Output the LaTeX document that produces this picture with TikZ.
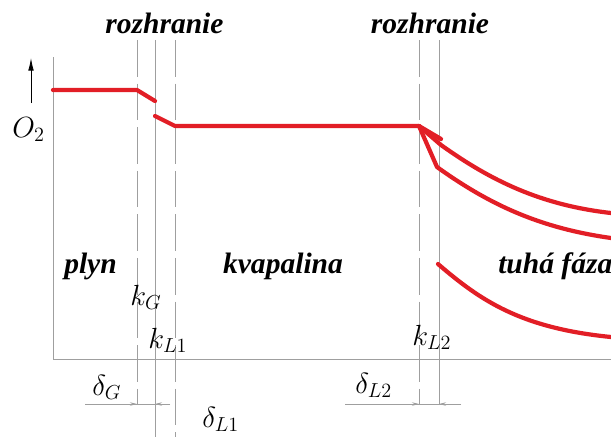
\documentclass[tikz,border=0pt]{standalone}
\usepackage[no-math]{fontspec}
\setmainfont{Liberation Serif}
\usepackage{amsmath}
\usetikzlibrary{arrows.meta,calc}
\definecolor{oxy}{RGB}{226,30,38}

\begin{document}
\begin{tikzpicture}[
  x=0.025cm, y=-0.025cm,
  ax/.style={draw=gray!75, line width=0.5pt},
  gapline/.style={ax, dash pattern=on 26pt off 5pt},
  prof/.style={draw=oxy, line width=3pt, line cap=round, line join=round},
  dimarr/.style={ax, -{Stealth[length=5pt,width=2.5pt]}},
  phase/.style={font=\fontsize{21}{24}\selectfont\bfseries\itshape, inner sep=0pt, anchor=base},
  sym/.style={font=\fontsize{22}{26}\selectfont, inner sep=0pt, anchor=base west}
]
\useasboundingbox (0,0) rectangle (611,437);

% axes
\coordinate (top) at (53,57);
\coordinate (org) at (53,359);
\coordinate (xend) at (611,359);
\draw[ax] (top) -- (org) -- (xend);

% gas / liquid interface
\coordinate (g1) at (137,40);  \coordinate (g1b) at (137,404);
\coordinate (g2) at (155,40);  \coordinate (g2b) at (155,437);
\coordinate (g3) at (175,40);  \coordinate (g3b) at (175,437);
\draw[gapline] (g1) -- (g1b);
\draw[ax] (g2) -- (g2b);
\draw[gapline] (g3) -- (g3b);

% liquid / solid interface
\coordinate (s1) at (419,40);  \coordinate (s1b) at (419,404);
\coordinate (s2) at (439,40);  \coordinate (s2b) at (439,404);
\draw[gapline] (s1) -- (s1b);
\draw[ax] (s2) -- (s2b);

% film thickness marks
\coordinate (dgL) at (85,404);  \coordinate (dgR) at (170,404);
\draw[ax] (dgL) -- (dgR);
\draw[dimarr] (dgL) -- (g1b);
\draw[dimarr] (dgR) -- (155,404);
\coordinate (dsL) at (345,404); \coordinate (dsR) at (461,404);
\draw[ax] (dsL) -- (dsR);
\draw[dimarr] (dsL) -- (s1b);
\draw[dimarr] (dsR) -- (s2b);

% O2 arrow
\coordinate (oa) at (31,103);
\coordinate (ob) at (31,58);
\draw[-{Latex[length=9pt,width=4pt]}, line width=0.6pt] (oa) -- (ob);

% concentration profile
\coordinate (p0) at (53,90);
\coordinate (p1) at (137,90);
\coordinate (p2) at (155,101);
\coordinate (p3) at (155,116);
\coordinate (p4) at (175,126);
\coordinate (tip) at (419,126);
\draw[prof] (p0) -- (p1) -- (p2);
\draw[prof] (p3) -- (p4) -- (tip);
\draw[prof] (611,213) .. controls (540,205) and (490,180) .. (441,145) -- (tip);
\draw[prof] (tip) -- (441,139);
\draw[prof] (611,238) .. controls (540,228) and (490,205) .. (437,167) -- (tip);
\draw[prof] (438,264) .. controls (480,300) and (520,328) .. (611,337);

% labels
\node[phase] (roz1) at (164.5,33) {rozhranie};
\node[phase] (roz2) at (430,33) {rozhranie};
\node[phase] (plyn) at (90.5,273) {plyn};
\node[phase] (kvap) at (283,273) {kvapalina};
\node[phase, anchor=base west] (tuha) at (498,273) {tuhá fáza};

\node[sym] (o2) at (12,137) {$O_2$};
\node[sym] (kg) at (130,305) {$k_G$};
\node[sym] (kl1) at (148,348) {$k_{L1}$};
\node[sym] (kl2) at (412,345) {$k_{L2}$};
\node[sym] (dg) at (92,395) {$\delta_G$};
\node[sym] (dl1) at (202,427) {$\delta_{L1}$};
\node[sym] (dl2) at (355,393) {$\delta_{L2}$};
\end{tikzpicture}
\end{document}
